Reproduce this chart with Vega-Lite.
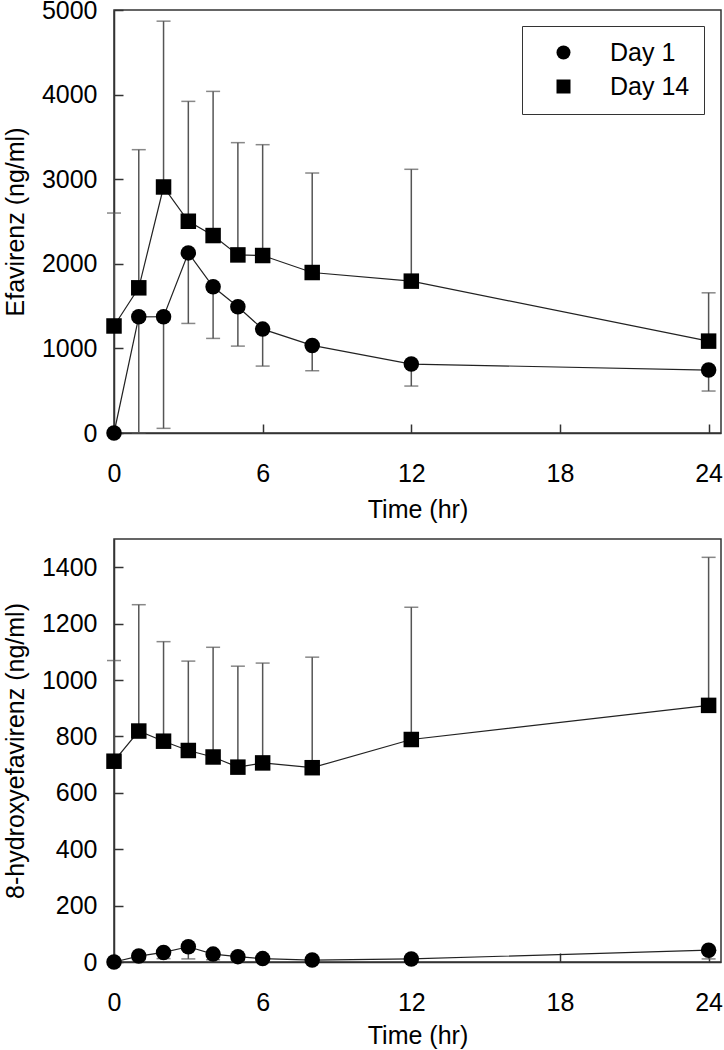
{
  "$schema": "https://vega.github.io/schema/vega-lite/v6.json",
  "background": "white",
  "padding": {"left": 2, "top": -3, "right": 0, "bottom": 0},
  "datasets": {
    "efv": [
      {"time": 0, "group": "Day 1", "conc": 0, "bar": 0},
      {"time": 1, "group": "Day 1", "conc": 1373, "bar": 0},
      {"time": 2, "group": "Day 1", "conc": 1375, "bar": 55},
      {"time": 3, "group": "Day 1", "conc": 2129, "bar": 1295},
      {"time": 4, "group": "Day 1", "conc": 1728, "bar": 1118},
      {"time": 5, "group": "Day 1", "conc": 1492, "bar": 1027},
      {"time": 6, "group": "Day 1", "conc": 1228, "bar": 791},
      {"time": 8, "group": "Day 1", "conc": 1035, "bar": 736},
      {"time": 12, "group": "Day 1", "conc": 815, "bar": 555},
      {"time": 24, "group": "Day 1", "conc": 744, "bar": 496},
      {"time": 0, "group": "Day 14", "conc": 1265, "bar": 2600},
      {"time": 1, "group": "Day 14", "conc": 1716, "bar": 3349},
      {"time": 2, "group": "Day 14", "conc": 2908, "bar": 4868},
      {"time": 3, "group": "Day 14", "conc": 2503, "bar": 3920},
      {"time": 4, "group": "Day 14", "conc": 2334, "bar": 4038},
      {"time": 5, "group": "Day 14", "conc": 2105, "bar": 3432},
      {"time": 6, "group": "Day 14", "conc": 2098, "bar": 3408},
      {"time": 8, "group": "Day 14", "conc": 1897, "bar": 3073},
      {"time": 12, "group": "Day 14", "conc": 1795, "bar": 3117},
      {"time": 24, "group": "Day 14", "conc": 1086, "bar": 1657}
    ],
    "oh": [
      {"time": 0, "group": "Day 1", "conc": 0, "bar": 0},
      {"time": 1, "group": "Day 1", "conc": 21, "bar": 8},
      {"time": 2, "group": "Day 1", "conc": 34, "bar": 12},
      {"time": 3, "group": "Day 1", "conc": 54, "bar": 11},
      {"time": 4, "group": "Day 1", "conc": 28, "bar": 8},
      {"time": 5, "group": "Day 1", "conc": 19, "bar": 5},
      {"time": 6, "group": "Day 1", "conc": 12, "bar": 3},
      {"time": 8, "group": "Day 1", "conc": 7, "bar": 2},
      {"time": 12, "group": "Day 1", "conc": 11, "bar": 4},
      {"time": 24, "group": "Day 1", "conc": 42, "bar": 11},
      {"time": 0, "group": "Day 14", "conc": 712, "bar": 1069},
      {"time": 1, "group": "Day 14", "conc": 819, "bar": 1267},
      {"time": 2, "group": "Day 14", "conc": 783, "bar": 1136},
      {"time": 3, "group": "Day 14", "conc": 750, "bar": 1067},
      {"time": 4, "group": "Day 14", "conc": 727, "bar": 1116},
      {"time": 5, "group": "Day 14", "conc": 691, "bar": 1049},
      {"time": 6, "group": "Day 14", "conc": 706, "bar": 1060},
      {"time": 8, "group": "Day 14", "conc": 689, "bar": 1081},
      {"time": 12, "group": "Day 14", "conc": 789, "bar": 1258},
      {"time": 24, "group": "Day 14", "conc": 910, "bar": 1435}
    ]
  },
  "spacing": 106,
  "bounds": "flush",
  "vconcat": [
    {
      "width": 607,
      "height": 423,
      "data": {"name": "efv"},
      "encoding": {
        "x": {"field": "time", "type": "quantitative", "scale": {"domain": [0, 24.5], "nice": false, "zero": false}, "axis": {"title": "Time (hr)", "values": [0, 6, 12, 18, 24], "titleY": 84}}
      },
      "layer": [
        {
          "mark": {"type": "rule", "color": "#555", "strokeWidth": 1.5},
          "encoding": {
            "y": {"field": "conc", "type": "quantitative", "scale": {"domain": [0, 5000], "nice": false}, "axis": {"title": "Efavirenz (ng/ml)", "values": [0, 1000, 2000, 3000, 4000, 5000]}},
            "y2": {"field": "bar"}
          }
        },
        {
          "mark": {"type": "tick", "orient": "horizontal", "color": "#555", "size": 14, "thickness": 1.5},
          "encoding": {"y": {"field": "bar", "type": "quantitative", "axis": {"title": "Efavirenz (ng/ml)"}}}
        },
        {
          "mark": {"type": "line", "color": "#222", "strokeWidth": 1.2},
          "encoding": {"y": {"field": "conc", "type": "quantitative", "axis": {"title": "Efavirenz (ng/ml)"}}, "detail": {"field": "group"}}
        },
        {
          "mark": {"type": "point", "filled": true, "color": "black", "opacity": 1, "size": 240},
          "encoding": {
            "y": {"field": "conc", "type": "quantitative", "axis": {"title": "Efavirenz (ng/ml)"}},
            "shape": {"field": "group", "type": "nominal", "scale": {"domain": ["Day 1", "Day 14"], "range": ["circle", "square"]},
              "legend": {"title": null, "orient": "none", "legendX": 408, "legendY": 16, "strokeColor": "#333", "fillColor": "white", "padding": 14, "labelFontSize": 25, "labelColor": "black", "symbolSize": 196, "symbolOffset": 15, "labelOffset": 34, "rowPadding": 8, "symbolFillColor": "black", "symbolStrokeColor": "black", "symbolStrokeWidth": 0}}
          }
        }
      ]
    },
    {
      "width": 607,
      "height": 423,
      "data": {"name": "oh"},
      "encoding": {
        "x": {"field": "time", "type": "quantitative", "scale": {"domain": [0, 24.5], "nice": false, "zero": false}, "axis": {"title": "Time (hr)", "values": [0, 6, 12, 18, 24], "titleY": 81}}
      },
      "layer": [
        {
          "mark": {"type": "rule", "color": "#555", "strokeWidth": 1.5},
          "encoding": {
            "y": {"field": "conc", "type": "quantitative", "scale": {"domain": [0, 1500], "nice": false}, "axis": {"title": "8-hydroxyefavirenz (ng/ml)", "values": [0, 200, 400, 600, 800, 1000, 1200, 1400]}},
            "y2": {"field": "bar"}
          }
        },
        {
          "mark": {"type": "tick", "orient": "horizontal", "color": "#555", "size": 14, "thickness": 1.5},
          "encoding": {"y": {"field": "bar", "type": "quantitative", "axis": {"title": "8-hydroxyefavirenz (ng/ml)"}}}
        },
        {
          "mark": {"type": "line", "color": "#222", "strokeWidth": 1.2},
          "encoding": {"y": {"field": "conc", "type": "quantitative", "axis": {"title": "8-hydroxyefavirenz (ng/ml)"}}, "detail": {"field": "group"}}
        },
        {
          "mark": {"type": "point", "filled": true, "color": "black", "opacity": 1, "size": 240},
          "encoding": {
            "y": {"field": "conc", "type": "quantitative", "axis": {"title": "8-hydroxyefavirenz (ng/ml)"}},
            "shape": {"field": "group", "type": "nominal", "scale": {"domain": ["Day 1", "Day 14"], "range": ["circle", "square"]},
              "legend": {"title": null, "orient": "none", "legendX": 385, "legendY": 18, "strokeColor": "#333", "fillColor": "white", "padding": 14, "labelFontSize": 25, "labelColor": "black", "symbolSize": 196, "symbolOffset": 15, "labelOffset": 34, "rowPadding": 8, "symbolFillColor": "black", "symbolStrokeColor": "black", "symbolStrokeWidth": 0}}
          }
        }
      ]
    }
  ],
  "config": {
    "font": "Liberation Sans",
    "view": {"stroke": "#333", "strokeWidth": 1.5},
    "axis": {"labelFontSize": 25, "titleFontSize": 25, "titleFontWeight": "normal", "labelColor": "black", "titleColor": "black", "domainColor": "#333", "domainWidth": 1.5, "tickColor": "#333", "tickWidth": 1.5, "tickSize": -9, "grid": false, "labelFlush": false, "labelBound": false, "labelOverlap": false, "format": "d"},
    "axisX": {"labelPadding": 57, "labelBaseline": "alphabetic", "titleBaseline": "alphabetic"},
    "axisY": {"labelPadding": 26, "titleX": -91, "titleBaseline": "alphabetic", "titleAngle": 270},
    "legend": {"labelFont": "Liberation Sans"}
  }
}
